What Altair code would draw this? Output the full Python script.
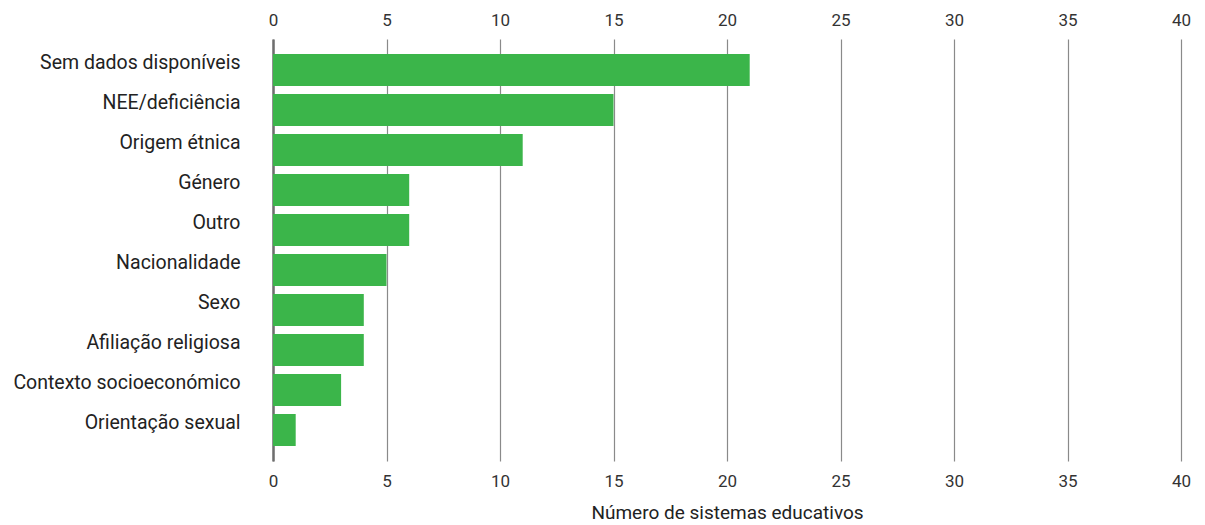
import altair as alt
import pandas as pd

categories = ["Sem dados disponíveis", "NEE/deficiência", "Origem étnica", "Género", "Outro",
              "Nacionalidade", "Sexo", "Afiliação religiosa", "Contexto socioeconómico", "Orientação sexual"]
values = [21, 15, 11, 6, 6, 5, 4, 4, 3, 1]
x_ticks = [0, 5, 10, 15, 20, 25, 30, 35, 40]

df = pd.DataFrame({"cat": categories, "val": values})

FONT = "Roboto"
TXT = "#222222"
xscale = alt.Scale(domain=[0, 40], nice=False)
yscale = alt.Scale(paddingInner=0.2, paddingOuter=0.375)

y_axis = alt.Axis(labelFontSize=19.5, labelFont=FONT, labelColor=TXT, labelLimit=400,
                  labelPadding=33, labelOffset=-7, ticks=False, domain=True, domainColor="#6e6e6e",
                  domainWidth=2.5, grid=False)

bars = alt.Chart(df).mark_bar(color="#3BB54A").encode(
    x=alt.X("val:Q", scale=xscale,
            axis=alt.Axis(orient="bottom", values=x_ticks, title="Número de sistemas educativos",
                          titleFontSize=19, titleFont=FONT, titleFontWeight="normal", titleColor=TXT,
                          titlePadding=14,
                          labelFontSize=17, labelFont=FONT, labelColor="#333333", labelFlush=False,
                          labelPadding=12, ticks=False, domain=False,
                          grid=True, gridColor="#8a8a8a", gridWidth=1.2)),
    y=alt.Y("cat:N", sort=categories, scale=yscale, title=None, axis=y_axis),
)

top = alt.Chart(df).mark_bar(opacity=0).encode(
    x=alt.X("val:Q", scale=xscale,
            axis=alt.Axis(orient="top", values=x_ticks, title=None,
                          labelFontSize=17, labelFont=FONT, labelColor="#333333", labelFlush=False,
                          labelPadding=10, ticks=False, domain=False, grid=False)),
    y=alt.Y("cat:N", sort=categories, scale=yscale, title=None, axis=y_axis),
)

chart = alt.layer(bars, top).resolve_axis(x="independent").properties(
    width=908, height=422, padding={"left": 4, "top": 3, "right": 5, "bottom": 5}
).configure_view(stroke=None)

chart.save("out.html", embed_options={"renderer": "svg", "actions": False})
